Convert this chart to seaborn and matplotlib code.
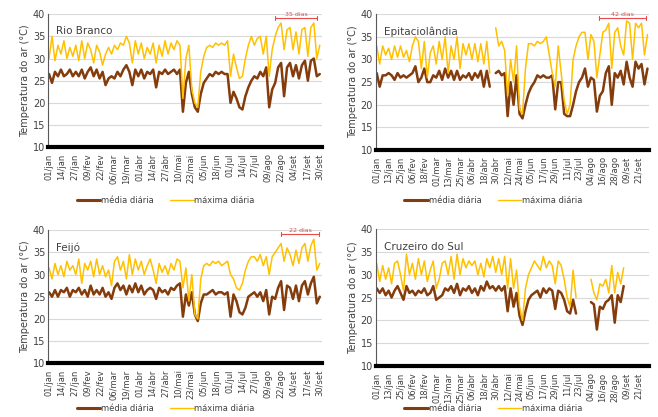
import numpy as np
import pandas as pd
import matplotlib
matplotlib.use("Agg")
import matplotlib.pyplot as plt
import seaborn as sns
from matplotlib.lines import Line2D

# day index from 01/jan (2024), one value every 3 days
days = np.arange(0, 274, 3)
nan = np.nan

rb_media = [26.5, 24.5, 27.0, 26.0, 27.5, 26.0, 26.5, 27.5, 26.0, 27.0,
            26.0, 27.5, 25.5, 27.0, 28.0, 26.0, 27.5, 25.5, 27.0, 24.0,
            25.5, 26.0, 25.5, 27.0, 26.0, 27.5, 28.5, 27.0, 24.0, 27.5,
            26.0, 27.5, 25.5, 27.0, 26.5, 27.5, 23.5, 27.0, 26.5, 27.5,
            26.5, 27.0, 27.5, 26.5, 27.5, 18.0, 24.5, 27.0, 22.0, 19.0,
            18.0, 22.0, 24.5, 25.5, 26.5, 26.0, 27.0, 26.5, 27.0, 26.5,
            26.5, 20.0, 22.5, 21.0, 19.0, 18.5, 21.5, 23.5, 25.0, 26.0,
            25.5, 27.0, 26.0, 28.0, 19.0, 23.0, 24.5, 28.0, 29.0, 21.5,
            28.0, 29.0, 26.0, 28.5, 25.5, 28.5, 29.5, 25.0, 29.5, 30.0,
            26.0, 26.5]
rb_maxima = [30.0, 35.0, 29.5, 33.0, 31.0, 34.0, 30.0, 32.5, 30.5, 33.0,
             29.5, 34.0, 30.0, 33.5, 32.0, 29.0, 33.0, 31.5, 28.5, 31.0,
             32.5, 31.0, 33.0, 32.0, 33.5, 33.0, 35.0, 33.5, 29.0, 34.0,
             31.0, 33.5, 30.0, 32.5, 31.0, 33.5, 29.0, 33.0, 30.5, 34.0,
             31.0, 33.5, 32.0, 34.0, 33.0, 21.0, 30.0, 33.0, 23.0, 20.0,
             19.0, 27.0, 30.5, 32.5, 33.0, 32.5, 33.5, 33.0, 33.5, 33.0,
             34.0, 26.0, 31.0, 28.0, 25.5, 26.0, 30.0, 33.0, 35.0, 33.0,
             34.5, 35.0, 31.0, 35.0, 26.0, 32.0, 35.0, 37.0, 38.0, 32.0,
             36.5, 37.0, 32.0, 36.0, 31.0, 36.5, 37.0, 30.5, 37.0, 38.0,
             30.0, 33.0]

ep_media = [27.0, 24.0, 26.5, 26.5, 27.0, 26.5, 25.5, 27.0, 26.0, 26.5,
            26.0, 26.5, 27.0, 28.5, 25.0, 26.0, 28.0, 25.0, 25.0, 26.5,
            26.0, 27.5, 25.5, 28.0, 26.0, 27.5, 25.5, 27.5, 25.5, 26.5,
            26.0, 27.0, 25.5, 27.0, 26.0, 27.5, 24.0, 27.5, 24.0, nan,
            27.0, 27.5, 26.5, 27.0, 17.5, 25.0, 20.0, 26.5, 18.0, 17.0,
            20.0, 22.5, 24.0, 25.0, 26.5, 26.0, 26.5, 26.0, 26.0, 26.5,
            19.0, 25.0, 25.0, 18.0, 17.5, 17.5, 20.0, 23.0, 25.0, 26.0,
            28.0, 24.0, 26.0, 25.5, 18.5, 22.0, 23.0, 27.0, 28.5, 20.0,
            27.0, 26.0, 27.5, 24.5, 29.5, 26.0, 24.0, 29.5, 28.0, 29.0,
            24.5, 28.0]
ep_maxima = [33.0, 29.0, 33.0, 31.0, 32.5, 30.0, 33.0, 30.5, 33.0, 30.5,
             32.0, 29.5, 33.0, 35.0, 34.0, 28.0, 34.0, 26.0, 31.5, 33.0,
             29.0, 34.0, 30.0, 35.0, 27.0, 33.0, 30.0, 35.0, 28.0, 33.5,
             31.0, 33.5, 30.0, 33.5, 29.5, 33.5, 29.0, 34.0, 27.0, nan,
             37.0, 33.0, 34.0, 32.0, 22.0, 30.0, 25.0, 33.0, 19.0, 18.0,
             28.0, 33.5, 33.5, 33.0, 34.0, 33.5, 34.0, 35.0, 31.0, 27.0,
             24.0, 33.0, 27.0, 21.0, 18.0, 20.0, 30.0, 33.0, 35.0, 36.0,
             36.0, 30.0, 35.5, 34.0, 26.0, 31.0, 36.0, 36.5, 38.0, 28.0,
             36.0, 37.0, 33.0, 31.0, 38.5, 38.0, 30.0, 38.0, 37.0, 38.0,
             31.0, 35.5]

fe_media = [26.0, 25.0, 26.5, 25.0, 26.5, 26.0, 27.0, 25.0, 26.5, 26.0,
            27.0, 25.5, 26.5, 25.0, 27.5, 25.5, 26.5, 25.5, 27.0, 25.0,
            26.0, 24.5, 27.0, 28.0, 26.5, 27.5, 25.5, 27.5, 26.0, 28.0,
            26.0, 27.5, 25.5, 26.5, 27.0, 26.5, 24.5, 27.0, 26.0, 26.5,
            25.5, 27.0, 26.5, 27.5, 28.0, 20.5, 25.5, 23.0, 26.0, 21.0,
            19.5, 23.5, 25.5, 25.5, 26.0, 26.5, 25.5, 26.0, 26.0, 25.5,
            26.0, 20.5, 25.5, 24.0, 21.5, 21.0, 22.5, 25.0, 25.5, 26.0,
            25.0, 26.0, 24.0, 26.5, 21.0, 25.0, 24.5, 27.0, 28.5, 22.0,
            27.5, 27.0, 24.5, 27.5, 24.0, 27.5, 28.5, 25.5, 28.0, 29.5,
            23.5, 25.0]
fe_maxima = [31.5, 29.0, 32.5, 30.0, 32.0, 29.5, 33.0, 31.0, 32.0, 30.0,
             33.5, 28.0, 32.5, 31.0, 33.0, 29.5, 33.5, 30.0, 32.0, 29.5,
             31.0, 27.5, 33.0, 34.0, 31.0, 33.0, 29.0, 34.5, 30.0, 33.5,
             31.0, 33.0, 30.0, 32.0, 33.5, 31.0, 28.0, 32.5, 30.5, 32.0,
             30.0, 32.5, 31.0, 33.5, 33.0, 27.0, 31.5, 24.0, 30.0, 21.0,
             20.0, 29.0, 32.0, 32.5, 32.0, 33.0, 32.5, 33.0, 32.0, 32.5,
             33.0, 30.0, 29.0, 27.0, 26.5, 28.0, 31.0, 33.0, 34.0, 34.0,
             33.0, 34.5, 32.0, 34.0, 30.0, 34.0, 35.0, 36.0, 37.0, 33.0,
             36.0, 34.5, 32.0, 35.5, 32.5, 36.0, 37.0, 33.0, 36.5, 38.0,
             31.0, 32.5]

cz_media = [27.0, 26.0, 27.0, 25.5, 26.5, 25.0, 26.5, 27.5, 26.0, 24.5,
            27.5, 26.0, 26.5, 25.5, 26.5, 26.0, 27.0, 25.5, 26.0, 27.5,
            24.5, 25.0, 25.5, 27.0, 26.5, 27.5, 26.0, 28.0, 25.5, 27.0,
            26.5, 27.5, 26.0, 27.0, 25.5, 27.5, 26.5, 28.5, 27.0, 27.5,
            26.5, 27.5, 26.5, 27.5, 22.0, 27.0, 23.0, 26.0, 21.0, 19.0,
            22.0, 24.5, 25.5, 26.0, 26.5, 25.0, 27.0, 26.0, 27.0, 26.5,
            22.5, 26.5, 26.0, 24.5, 22.0, 21.5, 24.5, 21.5, nan, nan,
            nan, nan, 24.0, 23.5, 18.0, 23.0, 22.5, 24.0, 24.5, 25.5,
            19.5, 25.5, 24.0, 27.5, nan, nan, nan, nan, nan, nan,
            nan, nan]
cz_maxima = [32.5, 28.5, 32.0, 29.0, 31.5, 28.0, 32.5, 33.0, 30.0, 26.5,
             34.5, 30.0, 32.5, 29.0, 33.5, 30.0, 33.0, 28.5, 31.0, 33.0,
             27.0, 29.0, 32.5, 33.0, 30.0, 34.0, 29.0, 34.5, 30.0, 33.5,
             31.5, 33.0, 32.0, 33.0, 30.0, 32.5, 29.5, 33.5, 31.5, 34.0,
             30.5, 33.5, 30.0, 34.0, 27.0, 33.5, 27.0, 31.0, 23.0, 20.0,
             27.0, 30.0, 31.5, 33.0, 32.0, 31.0, 34.0, 31.5, 33.0, 32.0,
             28.0, 33.0, 32.0, 29.0, 25.0, 23.0, 31.0, 25.0, nan, nan,
             nan, nan, 29.0, 26.0, 24.5, 28.0, 27.5, 29.0, 26.0, 32.0,
             26.0, 30.5, 28.0, 31.5, nan, nan, nan, nan, nan, nan,
             nan, nan]

ticks13 = ['01/jan', '14/jan', '27/jan', '09/fev', '22/fev', '06/mar', '19/mar',
           '01/abr', '14/abr', '27/abr', '10/mai', '23/mai', '05/jun', '18/jun',
           '01/jul', '14/jul', '27/jul', '09/ago', '22/ago', '04/set', '17/set',
           '30/set']
ticks12 = ['01/jan', '13/jan', '25/jan', '06/fev', '18/fev', '01/mar', '13/mar',
           '25/mar', '06/abr', '18/abr', '30/abr', '12/mai', '24/mai', '05/jun',
           '17/jun', '29/jun', '11/jul', '23/jul', '04/ago', '16/ago', '28/ago',
           '09/set', '21/set']

MEDIA = '#843C0C'
MAXIMA = '#FFC000'
RED = '#E84A4A'
TXT = '#404040'

sns.set_style("white")
plt.rcParams['font.family'] = ['DejaVu Sans']

fig = plt.figure(figsize=(6.58, 4.17), dpi=100)


def draw_line(ax, vals, color, lw):
    s = pd.Series(vals, index=days, dtype=float)
    grp = s.isna().cumsum()
    ok = s.notna()
    for _, seg in s[ok].groupby(grp[ok]):
        sns.lineplot(x=seg.index, y=seg.values, ax=ax, color=color,
                     linewidth=lw, legend=False)


panels = [
    ('Rio Branco', rb_media, rb_maxima, ticks13, 13, [0.073, 0.647, 0.416, 0.319], (228, 270, '35 dias'), -0.40),
    ('Epitaciolândia', ep_media, ep_maxima, ticks12, 12, [0.571, 0.640, 0.416, 0.326], (224, 272, '42 dias'), -0.37),
    ('Feijó', fe_media, fe_maxima, ticks13, 13, [0.073, 0.129, 0.416, 0.319], (234, 272, '22 dias'), -0.34),
    ('Cruzeiro do Sul', cz_media, cz_maxima, ticks12, 12, [0.571, 0.122, 0.416, 0.329], None, -0.31),
]

for name, media, maxima, tlabels, step, rect, brk, leg_y in panels:
    ax = fig.add_axes(rect)
    draw_line(ax, media, MEDIA, 1.8)
    draw_line(ax, maxima, MAXIMA, 1.1)

    ax.set_xlim(-1, 275)
    ax.set_ylim(10, 40)
    ax.set_yticks(range(10, 41, 5))
    ax.yaxis.grid(True, color='#d9d9d9', linewidth=0.8)
    ax.set_axisbelow(True)
    ax.set_xticks(np.arange(len(tlabels)) * step)
    ax.set_xticklabels(tlabels, rotation=90, fontsize=6, color=TXT)
    ax.tick_params(axis='y', labelsize=7, colors=TXT, length=0, pad=2)
    ax.tick_params(axis='x', length=3, width=0.8, color='black', pad=1.5)
    ax.set_xlabel('')
    ax.set_ylabel('Temperatura do ar (°C)', fontsize=7, color=TXT, labelpad=2)

    for sp in ['top', 'right']:
        ax.spines[sp].set_visible(False)
    ax.spines['left'].set_color('#595959')
    ax.spines['left'].set_linewidth(0.8)
    ax.spines['bottom'].set_color('black')
    ax.spines['bottom'].set_linewidth(3)

    ax.text(0.03, 0.87, name, transform=ax.transAxes, fontsize=7.5,
            color=TXT, ha='left', va='center')

    if brk is not None:
        a, b, lab = brk
        ax.plot([a, b], [39.2, 39.2], color=RED, linewidth=0.8, clip_on=False)
        ax.plot([a, a], [38.7, 39.5], color=RED, linewidth=0.8, clip_on=False)
        ax.plot([b, b], [38.7, 39.5], color=RED, linewidth=0.8, clip_on=False)
        ax.text((a + b) / 2, 39.4, lab, color=RED, fontsize=4.5,
                ha='center', va='bottom', clip_on=False)

    handles = [Line2D([], [], color=MEDIA, linewidth=2.2),
               Line2D([], [], color=MAXIMA, linewidth=1.0)]
    ax.legend(handles, ['média diária', 'máxima diária'], loc='center',
              bbox_to_anchor=(0.43, leg_y), ncol=2, frameon=False,
              fontsize=6, labelcolor=TXT, handlelength=2.8,
              handletextpad=0.1, columnspacing=2.0)

fig.savefig('out.png', dpi=100)
